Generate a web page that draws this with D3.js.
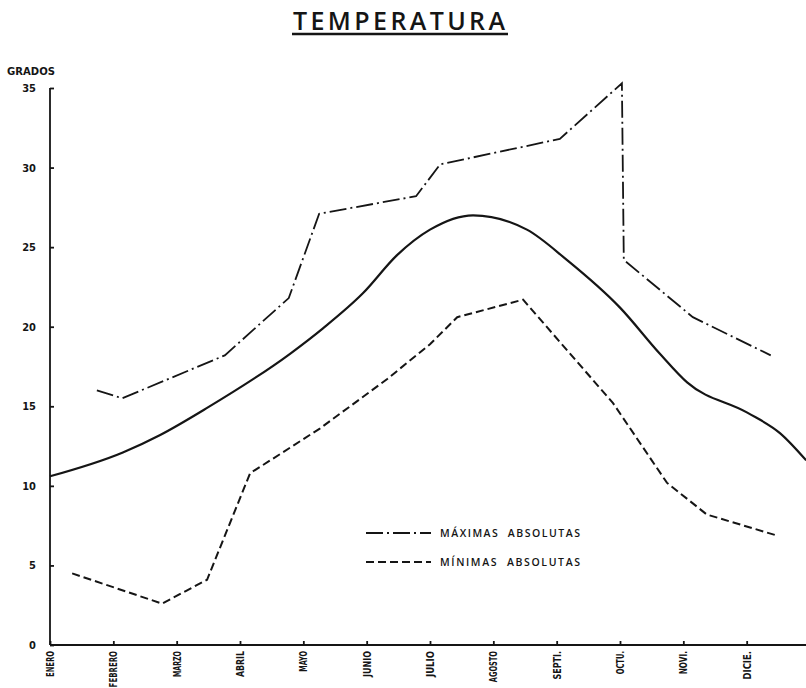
<!DOCTYPE html>
<html lang="es">
<head>
  <meta charset="utf-8">
  <title>Temperatura</title>
  <script src="https://d3js.org/d3.v7.min.js"></script>
  <style>
    body { margin: 0; background: #fff; }
    text { fill: #151515; }
    .axis path, .axis line { stroke: #151515; stroke-width: 1.8; }
    .ylab { font-family: "DejaVu Sans Condensed", sans-serif; font-weight: bold; font-size: 11px; }
    .mes { font-family: "DejaVu Sans Condensed", sans-serif; font-weight: bold; font-size: 10px; }
    .leyenda { font-family: "Open Sans", sans-serif; font-size: 10.5px; font-weight: 600; white-space: pre; }
  </style>
</head>
<body>
  <div id="chart"></div>
  <script>
    var w = 806, h = 688;

    // meses del eje x
    var meses = ['ENERO', 'FEBRERO', 'MARZO', 'ABRIL', 'MAYO', 'JUNIO', 'JULIO',
                 'AGOSTO', 'SEPTI.', 'OCTU.', 'NOVI.', 'DICIE.'];
    var gradosTicks = [0, 5, 10, 15, 20, 25, 30, 35];

    // posicion (en meses desde enero) y grados
    var maxMes = [0.74, 1.14, 2.76, 3.77, 4.25, 5.78, 6.16, 8.05, 9.03, 9.06, 10.15, 11.38];
    var maxVal = [16.0, 15.5, 18.2, 21.8, 27.1, 28.2, 30.2, 31.8, 35.3, 24.2, 20.6, 18.2];

    var minMes = [0.35, 1.77, 2.48, 3.16, 3.36, 4.26, 5.32, 6.0, 6.43, 7.47, 8.89, 9.74, 10.37, 11.5];
    var minVal = [4.5, 2.6, 4.1, 10.8, 11.3, 13.6, 16.7, 18.9, 20.6, 21.7, 15.2, 10.2, 8.2, 6.85];

    var mediaMes = [0, 1.15, 1.74, 2.48, 3.79, 4.31, 4.94, 5.48, 6.0, 6.68, 7.53, 8.16, 9.0, 9.63, 10.06, 11.01, 11.53, 11.94];
    var mediaVal = [10.6, 12.1, 13.2, 14.9, 18.3, 19.9, 22.1, 24.5, 26.1, 27.0, 26.1, 24.2, 21.2, 18.3, 16.5, 14.6, 13.3, 11.6];

    var svg = d3.select('#chart').append('svg')
      .attr('width', w)
      .attr('height', h);

    var x = d3.scaleLinear().domain([0, 12]).range([50, 810]);
    var y = d3.scaleLinear().domain([0, 35]).range([645, 88]);

    // titulo
    svg.append('text')
      .attr('x', 293).attr('y', 30)
      .attr('textLength', 212).attr('lengthAdjust', 'spacing')
      .style('font-family', 'Open Sans, sans-serif')
      .style('font-weight', 600)
      .style('font-size', '25px')
      .text('TEMPERATURA');
    svg.append('line')
      .attr('x1', 292).attr('x2', 508).attr('y1', 34).attr('y2', 34)
      .attr('stroke', '#151515').attr('stroke-width', 2.5);

    svg.append('text')
      .attr('class', 'ylab')
      .attr('x', 7).attr('y', 75)
      .attr('textLength', 48).attr('lengthAdjust', 'spacingAndGlyphs')
      .style('font-size', '10px')
      .text('GRADOS');

    // ejes
    var yAxis = d3.axisLeft(y).tickValues(gradosTicks).tickSize(-4).tickPadding(14);
    svg.append('g').attr('class', 'axis ylab')
      .attr('transform', 'translate(' + x(0) + ',0)')
      .call(yAxis)
      .call(function (g) { g.select('.domain').attr('d', 'M0,' + y(35) + 'V' + y(0)); })
      .selectAll('text').attr('class', 'ylab');

    var xAxis = d3.axisBottom(x).tickValues(d3.range(13)).tickSize(-4)
      .tickFormat(function (d) { return meses[d] || ''; });
    var gx = svg.append('g').attr('class', 'axis')
      .attr('transform', 'translate(0,' + y(0) + ')')
      .call(xAxis);
    gx.select('.domain').attr('d', 'M' + x(0) + ',0H' + w);
    gx.selectAll('text')
      .attr('class', 'mes')
      .attr('transform', 'rotate(-90)')
      .attr('x', -6).attr('y', 0).attr('dy', '0.35em')
      .attr('textLength', function (d) {
        var m = meses[d];
        if (!m) return null;
        var puntos = (m.match(/\./g) || []).length;
        return (m.length - puntos) * 5.2 + puntos * 2.5;
      })
      .attr('lengthAdjust', 'spacingAndGlyphs')
      .style('text-anchor', 'end');

    function pts(ms, vs) {
      return ms.map(function (m, i) { return [m, vs[i]]; });
    }

    var linea = d3.line()
      .x(function (d) { return x(d[0]); })
      .y(function (d) { return y(d[1]); });

    // media (continua)
    svg.append('path')
      .datum(pts(mediaMes, mediaVal))
      .attr('d', linea.curve(d3.curveMonotoneX))
      .attr('fill', 'none').attr('stroke', '#151515').attr('stroke-width', 2.2);

    // maximas absolutas (trazo y punto)
    svg.append('path')
      .datum(pts(maxMes, maxVal))
      .attr('d', linea.curve(d3.curveLinear))
      .attr('fill', 'none').attr('stroke', '#151515').attr('stroke-width', 1.8)
      .attr('stroke-dasharray', '17,4,2,4');

    // minimas absolutas (discontinua)
    svg.append('path')
      .datum(pts(minMes, minVal))
      .attr('d', linea.curve(d3.curveLinear))
      .attr('fill', 'none').attr('stroke', '#151515').attr('stroke-width', 2)
      .attr('stroke-dasharray', '8,4');

    // leyenda
    var leyenda = [
      { txt: 'MÁXIMAS  ABSOLUTAS', dash: '17,4,2,4', y: 533 },
      { txt: 'MÍNIMAS  ABSOLUTAS', dash: '8,4', y: 562 }
    ];
    var lg = svg.selectAll('g.ley').data(leyenda).enter().append('g').attr('class', 'ley');
    lg.append('line')
      .attr('x1', 366).attr('x2', 431)
      .attr('y1', function (d) { return d.y; }).attr('y2', function (d) { return d.y; })
      .attr('stroke', '#151515').attr('stroke-width', 1.8)
      .attr('stroke-dasharray', function (d) { return d.dash; });
    lg.append('text')
      .attr('class', 'leyenda')
      .attr('x', 440).attr('y', function (d) { return d.y + 4; })
      .attr('textLength', 140).attr('lengthAdjust', 'spacing')
      .text(function (d) { return d.txt; });
  </script>
</body>
</html>
